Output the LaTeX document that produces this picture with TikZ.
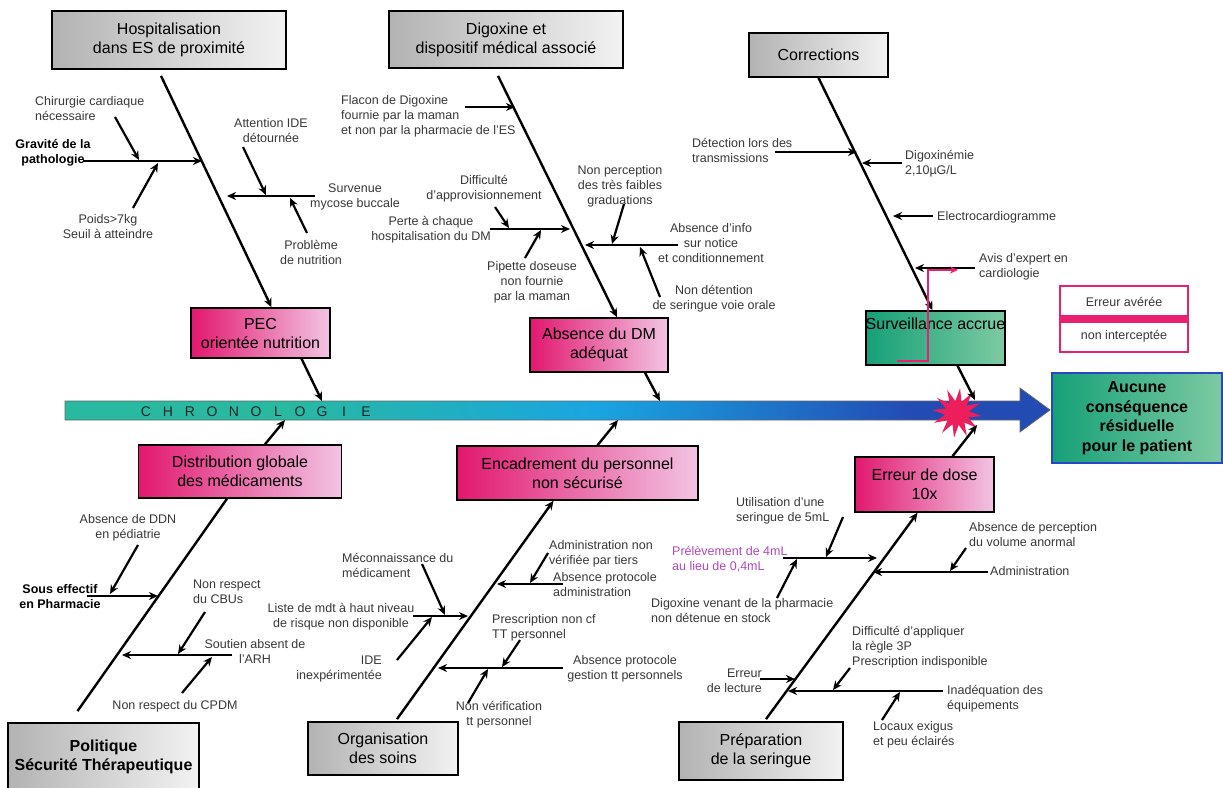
\documentclass[tikz,border=0pt]{standalone}
\usepackage{fontspec}
\setmainfont{Liberation Sans}
\usetikzlibrary{arrows.meta,calc}
\definecolor{txtgray}{RGB}{55,55,55}
\definecolor{pinkdeep}{RGB}{226,24,110}
\definecolor{pinklite}{RGB}{242,196,228}
\definecolor{greendeep}{RGB}{22,160,120}
\definecolor{greenlite}{RGB}{125,202,162}
\definecolor{barteal}{RGB}{40,185,160}
\definecolor{barcyan}{RGB}{25,165,225}
\definecolor{barblue}{RGB}{35,75,180}
\definecolor{outblue}{RGB}{40,70,200}
\definecolor{pinkc}{RGB}{232,32,112}
\definecolor{starc}{RGB}{236,30,92}
\definecolor{purp}{RGB}{176,72,186}
\newcommand{\labfont}{\fontsize{12.5}{15}\selectfont}
\newcommand{\ttlfont}{\fontsize{16}{19}\selectfont}
\pgfdeclarehorizontalshading{chronobar}{100bp}{color(0bp)=(barteal); color(25bp)=(barteal); color(36bp)=(barteal); color(52bp)=(barcyan); color(68bp)=(barblue); color(75bp)=(barblue); color(100bp)=(barblue)}
\tikzset{>={Stealth[length=9pt,width=8pt]},
  every node/.style={font=\labfont,text=txtgray,inner sep=0pt},
  note/.style={align=center},
  boldnote/.style={align=center,font=\labfont\bfseries,text=black},
  greybox/.style={draw=black,line width=1.8pt,left color=black!30,right color=black!5,font=\ttlfont,text=black,align=center},
  pinkbox/.style={draw=black,line width=1.5pt,left color=pinkdeep,right color=pinklite,font=\ttlfont,text=black,align=center},
  greenbox/.style={draw=black,line width=1.5pt,left color=greendeep,right color=greenlite,font=\ttlfont,text=black,align=center},
  spine/.style={line width=2.4pt,->},
  rib/.style={line width=2.4pt,->},
  twig/.style={line width=2.2pt,->},
  pinkpath/.style={draw=pinkc,line width=1.8pt,-{Stealth[length=8pt,width=7pt]}}}

\begin{document}
\begin{tikzpicture}[x=1pt,y=-1pt]
\useasboundingbox (0,0) rectangle (1223,787);

% fleche du temps
\shade[shading=chronobar,draw=black!60,line width=.7pt] (65,401) -- (1020,401) -- (1020,388) -- (1050,410) -- (1020,432) -- (1020,420) -- (65,420) -- cycle;
\foreach \c [count=\i from 0] in {C,H,R,O,N,O,L,O,G,I,E}
  \node[font=\fontsize{14}{14}\selectfont,text=black!85] (ch\i) at (146+22*\i,412) {\c};
\fill[starc] plot[samples at={0,...,23},variable=\k] ({957+(mod(\k,2)==0?25:12)*cos(\k*15+7)},{413+(mod(\k,2)==0?25:12)*sin(\k*15+7)}) -- cycle;
\coordinate (hitA) at (322,401);
\coordinate (hitB) at (660,401);
\coordinate (hitC) at (975,400);
\coordinate (hitD) at (285,420);
\coordinate (hitE) at (618,420);
\coordinate (hitF) at (977,425);

% categories
\node[greybox,minimum width=234pt,minimum height=58pt] (hosp) at (169,40) {Hospitalisation\\dans ES de proximité};
\node[greybox,minimum width=234pt,minimum height=57pt] (digo) at (506,39.5) {Digoxine et\\dispositif médical associé};
\node[greybox,minimum width=139pt,minimum height=44pt] (corr) at (818.5,55) {Corrections};
\node[greybox,minimum width=191pt,minimum height=68pt,font=\ttlfont\bfseries] (pol) at (103.5,757) {Politique\\Sécurité Thérapeutique};
\node[greybox,minimum width=150pt,minimum height=53pt] (orga) at (383,748.5) {Organisation\\des soins};
\node[greybox,minimum width=164pt,minimum height=58pt] (prep) at (761,751) {Préparation\\de la seringue};

% effets
\node[pinkbox,minimum width=139pt,minimum height=50pt] (pec) at (260.5,333) {PEC\\orientée nutrition};
\node[pinkbox,minimum width=138pt,minimum height=54pt] (absdm) at (599,345) {Absence du DM\\adéquat};
\node[greenbox,minimum width=139pt,minimum height=54pt] (surv) at (935.5,338) {};
\node[font=\ttlfont,text=black,below=7pt] (survtxt) at (surv.north) {Surveillance accrue};
\node[pinkbox,minimum width=203pt,minimum height=53pt] (distr) at (240,471.5) {Distribution globale\\des médicaments};
\node[pinkbox,minimum width=241pt,minimum height=54pt] (encad) at (577.5,473) {Encadrement du personnel\\non sécurisé};
\node[pinkbox,minimum width=139pt,minimum height=55pt] (erreur) at (924.5,484.5) {Erreur de dose\\10x};
\node[greenbox,draw=outblue,minimum width=170pt,minimum height=90pt,font=\fontsize{16}{19.5}\selectfont\bfseries] (issue) at (1137,418) {Aucune\\conséquence\\résiduelle\\pour le patient};

% aretes principales
\draw[spine] ([shift={(-8,6)}]hosp.south) -- ([xshift=11pt]pec.north);
\draw[spine] ([shift={(-8,7)}]digo.south) -- ([xshift=18pt]absdm.north);
\draw[spine] (corr.south) -- ([xshift=-3pt]surv.north);
\draw[line width=2.4pt] ([shift={(-26,-11)}]pol.north) -- ([xshift=-13pt]distr.south);
\draw[spine] ([shift={(14,-2)}]orga.north) -- ([xshift=-24pt]encad.south);
\draw[spine] ([shift={(5,-2)}]prep.north) -- ([xshift=-7pt]erreur.south);
\draw[spine] ([xshift=41pt]pec.south) -- (hitA);
\draw[spine] ([xshift=46pt]absdm.south) -- (hitB);
\draw[spine] ([xshift=22pt]surv.south) -- (hitC);
\draw[spine] ([xshift=25pt]distr.north) -- (hitD);
\draw[spine] ([xshift=20pt]encad.north) -- (hitE);
\draw[spine] ([xshift=28pt]erreur.north) -- (hitF);

% hospitalisation
\draw[rib] (83,161) -- (202,161);
\draw[twig] (115,117) -- (139,160);
\draw[twig] (133,208) -- (158,163);
\draw[rib] (315,196) -- (227,196);
\draw[twig] (243,147) -- (266,195);
\draw[twig] (307,233) -- (290,198);
\node[boldnote] (grav) at (53,153) {Gravité de la\\pathologie};
\node[note,align=left,anchor=west] (chir) at (35,109) {Chirurgie cardiaque\\nécessaire};
\node[note] (poids) at (108,227) {Poids>7kg\\Seuil à atteindre};
\node[note] (atten) at (271,131) {Attention IDE\\détournée};
\node[note] (myco) at (355,197) {Survenue\\mycose buccale};
\node[note] (nutri) at (311,252) {Problème\\de nutrition};

% digoxine
\draw[rib] (465,107) -- (515,107);
\draw[rib] (490,229) -- (570,229);
\draw[twig] (495,207) -- (509,228);
\draw[twig] (525,258) -- (541,230);
\draw[rib] (678,245) -- (585,245);
\draw[twig] (624,204) -- (612,244);
\draw[twig] (660,297) -- (640,247);
\node[note,align=left,anchor=west] (flacon) at (341,116) {Flacon de Digoxine\\fournie par la maman\\et non par la pharmacie de l'ES};
\node[note] (appro) at (484,189) {Difficulté\\d'approvisionnement};
\node[note] (perte) at (431,230) {Perte à chaque\\hospitalisation du DM};
\node[note] (pipette) at (532,282) {Pipette doseuse\\non fournie\\par la maman};
\node[note] (percep) at (620,186) {Non perception\\des très faibles\\graduations};
\node[note] (info) at (711,243) {Absence d'info\\sur notice\\et conditionnement};
\node[note] (deten) at (714,299) {Non détention\\de seringue voie orale};

% corrections
\draw[rib] (775,152) -- (857,152);
\draw[rib] (902,163) -- (862,163);
\draw[rib] (933,216) -- (893,216);
\draw[rib] (975,268) -- (915,268);
\node[note,align=left,anchor=west] (detec) at (692,150) {Détection lors des\\transmissions};
\node[note,align=left,anchor=west] (digox) at (905,164) {Digoxinémie\\2,10µG/L};
\node[note,anchor=west] (ecg) at (937,217) {Electrocardiogramme};
\node[note,align=left,anchor=west] (avis) at (979,267) {Avis d'expert en\\cardiologie};
\draw[pinkpath] (897,361) -- (928,361) -- (928,270) -- (958,270);

% politique
\draw[rib] (87,596) -- (158,596);
\draw[twig] (138,545) -- (110,594);
\draw[rib] (232,655) -- (122,655);
\draw[twig] (205,612) -- (178,654);
\draw[twig] (182,693) -- (212,657);
\node[note] (ddn) at (128,528) {Absence de DDN\\en pédiatrie};
\node[boldnote] (effec) at (60,597) {Sous effectif\\en Pharmacie};
\node[note,align=left,anchor=west] (cbu) at (193,592) {Non respect\\du CBUs};
\node[note] (arh) at (255,651) {Soutien absent de\\l'ARH};
\node[note] (cpdm) at (175,706) {Non respect du CPDM};

% organisation
\draw[rib] (413,616) -- (468,616);
\draw[twig] (422,564) -- (445,615);
\draw[twig] (397,660) -- (432,617);
\draw[rib] (563,584) -- (497,584);
\draw[twig] (548,553) -- (530,583);
\draw[rib] (563,668) -- (438,668);
\draw[twig] (520,640) -- (502,667);
\draw[twig] (468,703) -- (488,669);
\node[note,align=left,anchor=west] (mecon) at (342,565) {Méconnaissance du\\médicament};
\node[note] (liste) at (341,617) {Liste de mdt à haut niveau\\de risque non disponible};
\node[note,align=right,anchor=east] (ide) at (382,669) {IDE\\inexpérimentée};
\node[note,align=left,anchor=west] (verif) at (549,554) {Administration non\\vérifiée par tiers};
\node[note,align=left,anchor=west] (protoA) at (553,585) {Absence protocole\\administration};
\node[note,align=left,anchor=west] (prescr) at (492,628) {Prescription non cf\\TT personnel};
\node[note] (protoG) at (625,669) {Absence protocole\\gestion tt personnels};
\node[note] (nonverif) at (499,715) {Non vérification\\tt personnel};

% preparation
\draw[rib] (783,558) -- (877,558);
\draw[twig] (843,517) -- (826,557);
\draw[twig] (777,598) -- (797,559);
\draw[rib] (988,572) -- (873,572);
\draw[twig] (966,548) -- (950,571);
\draw[rib] (760,679) -- (795,679);
\draw[rib] (943,691) -- (788,691);
\draw[twig] (850,668) -- (833,690);
\draw[twig] (882,720) -- (900,692);
\node[note,align=left,anchor=west] (utilis) at (736,511) {Utilisation d'une\\seringue de 5mL};
\node[note,align=left,anchor=west,text=purp] (prelev) at (672,559) {Prélèvement de 4mL\\au lieu de 0,4mL};
\node[note,align=left,anchor=west] (venant) at (651,611) {Digoxine venant de la pharmacie\\non détenue en stock};
\node[note,anchor=west] (admin) at (990,571) {Administration};
\node[note,align=left,anchor=west] (volume) at (969,535) {Absence de perception\\du volume anormal};
\node[note,align=right,anchor=east] (lecture) at (762,681) {Erreur\\de lecture};
\node[note,align=left,anchor=west] (regle) at (852,647) {Difficulté d'appliquer\\la règle 3P\\Prescription indisponible};
\node[note,align=left,anchor=west] (equip) at (947,699) {Inadéquation des\\équipements};
\node[note,align=left,anchor=west] (locaux) at (873,735) {Locaux exigus\\et peu éclairés};

% legende
\draw[pinkc,line width=2pt] (1060,286) rectangle (1188,352);
\fill[pinkc] (1060,315) rectangle (1188,323);
\node (avere) at (1124,302) {Erreur avérée};
\node (interc) at (1124,336) {non interceptée};
\end{tikzpicture}
\end{document}
